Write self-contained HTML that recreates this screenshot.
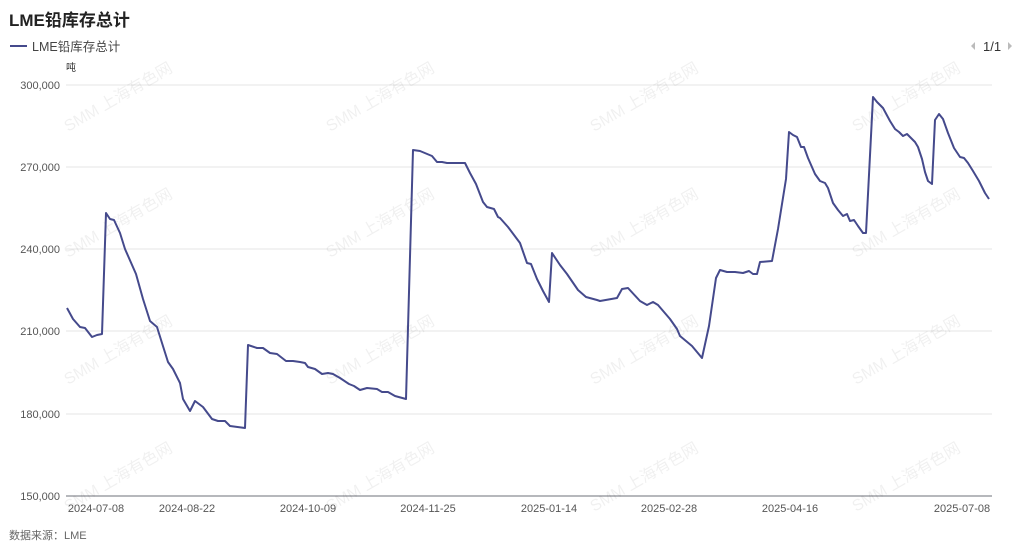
<!DOCTYPE html>
<html><head><meta charset="utf-8"><style>
body{margin:0;background:#fff;width:1024px;height:543px;overflow:hidden;font-family:"Liberation Sans","Noto Sans CJK SC",sans-serif}
</style></head><body>
<svg width="1024" height="543" xmlns="http://www.w3.org/2000/svg" font-family="Liberation Sans, Noto Sans CJK SC, sans-serif">
<text x="9" y="26" font-size="17" font-weight="bold" fill="#222">LME铅库存总计</text>
<line x1="10" y1="46" x2="27" y2="46" stroke="#454a8c" stroke-width="2"/>
<text x="32" y="51" font-size="12.5" fill="#444">LME铅库存总计</text>
<text x="983" y="51" font-size="13" fill="#333">1/1</text>
<path d="M975,42 l-4,4 l4,4z" fill="#bbb"/><path d="M1008,42 l4,4 l-4,4z" fill="#bbb"/>
<text x="66" y="71" font-size="10" fill="#333">吨</text>
<g stroke="#e6e6e6" stroke-width="1">
<line x1="66" y1="85" x2="992" y2="85"/><line x1="66" y1="167" x2="992" y2="167"/><line x1="66" y1="249" x2="992" y2="249"/><line x1="66" y1="331" x2="992" y2="331"/><line x1="66" y1="414" x2="992" y2="414"/>
</g>
<line x1="66" y1="496" x2="992" y2="496" stroke="#6e7079" stroke-width="1"/>
<g font-size="11" fill="#555" text-anchor="end">
<text x="60" y="89">300,000</text><text x="60" y="171">270,000</text><text x="60" y="253">240,000</text><text x="60" y="335">210,000</text><text x="60" y="418">180,000</text><text x="60" y="500">150,000</text>
</g>
<g font-size="11" fill="#555" text-anchor="middle">
<text x="96" y="512">2024-07-08</text><text x="187" y="512">2024-08-22</text><text x="308" y="512">2024-10-09</text><text x="428" y="512">2024-11-25</text><text x="549" y="512">2025-01-14</text><text x="669" y="512">2025-02-28</text><text x="790" y="512">2025-04-16</text><text x="962" y="512">2025-07-08</text>
</g>
<g font-size="16" fill="#000" fill-opacity="0.06">
<text transform="translate(68,132) rotate(-30)">SMM 上海有色网</text>
<text transform="translate(330,132) rotate(-30)">SMM 上海有色网</text>
<text transform="translate(594,132) rotate(-30)">SMM 上海有色网</text>
<text transform="translate(856,132) rotate(-30)">SMM 上海有色网</text>
<text transform="translate(68,258) rotate(-30)">SMM 上海有色网</text>
<text transform="translate(330,258) rotate(-30)">SMM 上海有色网</text>
<text transform="translate(594,258) rotate(-30)">SMM 上海有色网</text>
<text transform="translate(856,258) rotate(-30)">SMM 上海有色网</text>
<text transform="translate(68,385) rotate(-30)">SMM 上海有色网</text>
<text transform="translate(330,385) rotate(-30)">SMM 上海有色网</text>
<text transform="translate(594,385) rotate(-30)">SMM 上海有色网</text>
<text transform="translate(856,385) rotate(-30)">SMM 上海有色网</text>
<text transform="translate(68,512) rotate(-30)">SMM 上海有色网</text>
<text transform="translate(330,512) rotate(-30)">SMM 上海有色网</text>
<text transform="translate(594,512) rotate(-30)">SMM 上海有色网</text>
<text transform="translate(856,512) rotate(-30)">SMM 上海有色网</text>
</g>
<polyline fill="none" stroke="#454a8c" stroke-width="2" stroke-linejoin="round" points="67,308 73,319 80,327 85,328 92,337 97,335 102,334 106,213 110,219 114,220 120,233 125,249 136,274 143,299 150,321 157,327 162,343 168,362 173,369 180,383 183,399 190,411 195,401 203,407 212,419 218,421 225,421 230,426 245,428 248,345 257,348 263,348 270,353 277,354 286,361 293,361 300,362 305,363 308,367 315,369 322,374 328,373 333,374 340,378 349,384 354,386 360,390 367,388 377,389 382,392 388,392 395,396 406,399 413,150 420,151 432,156 437,162 442,162 447,163 465,163 470,173 476,184 483,202 487,207 494,209 498,217 500,218 508,227 520,243 527,263 531,264 537,279 543,291 549,302 552,253 560,265 567,274 578,290 586,297 597,300 600,301 617,298 622,289 628,288 640,301 647,305 653,302 658,305 670,319 677,329 680,336 692,346 702,358 709,326 716,278 720,270 727,272 735,272 743,273 749,271 753,274 757,274 760,262 772,261 778,229 786,179 789,132 793,135 797,137 801,147 804,147 808,158 815,174 820,181 825,183 828,188 833,203 838,210 843,216 847,214 850,221 854,220 858,226 863,233 866,233 873,97 877,102 883,108 890,121 895,129 899,132 903,136 907,134 910,137 915,142 918,147 922,159 925,172 928,181 932,184 935,120 939,114 943,119 948,133 954,148 960,157 964,158 968,163 973,171 979,181 985,193 989,199"/>
<text x="9" y="539" font-size="11" fill="#666">数据来源：LME</text>
</svg>
</body></html>
